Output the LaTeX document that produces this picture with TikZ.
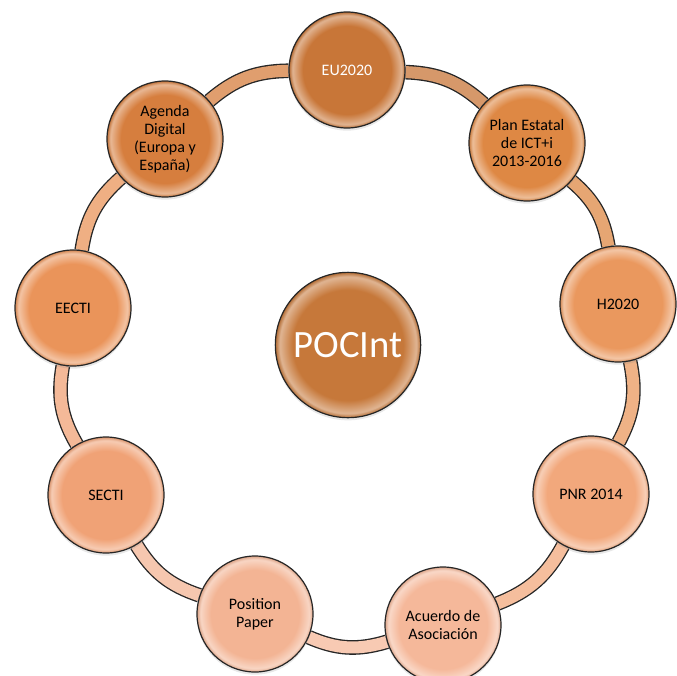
\documentclass[tikz,border=0pt]{standalone}
\usepackage{fontspec}
\setmainfont{Carlito}
\usetikzlibrary{backgrounds, shadows}
\definecolor{ballEU}{RGB}{200,118,56}
\definecolor{ballPlan}{RGB}{222,136,68}
\definecolor{ballH}{RGB}{234,152,94}
\definecolor{ballPNR}{RGB}{242,168,124}
\definecolor{ballAcu}{RGB}{245,184,154}
\definecolor{ballPos}{RGB}{243,180,148}
\definecolor{ballSecti}{RGB}{240,162,118}
\definecolor{ballEecti}{RGB}{234,148,90}
\definecolor{ballAgenda}{RGB}{214,126,62}
\definecolor{ballMain}{RGB}{198,120,58}
\colorlet{ballbase}{ballEU}
\pgfdeclareradialshading[ballbase]{glassball}{\pgfpoint{0bp}{0bp}}{%
  color(0bp)=(ballbase); color(19bp)=(ballbase); color(23.5bp)=(ballbase!55!white);
  color(25bp)=(ballbase!90!black); color(50bp)=(ballbase!90!black)}

\begin{document}
\begin{tikzpicture}[x=0.75pt, y=-0.75pt,
    ball/.style={circle, minimum size=87pt, inner sep=0pt, draw=black!85, line width=0.9pt,
      align=center, font=\fontsize{12}{13.5}\selectfont,
      /utils/exec={\colorlet{ballbase}{#1}}, shading=glassball,
      drop shadow={opacity=0.18, shadow xshift=0pt, shadow yshift=-2pt}},
    band/.style={draw=black!85, line width=1pt, double=#1, double distance=9pt}]
  \useasboundingbox (0,0) rectangle (677,675);

  \node[ball=ballMain, minimum size=109pt, text=white, font=\fontsize{29}{34}\selectfont] (pocint) at (348,345) {POCInt};

  \node[ball=ballEU, text=white] (eu) at (347,70) {EU2020};
  \node[ball=ballPlan] (plan) at (527,143) {Plan Estatal\\de ICT+i\\2013-2016};
  \node[ball=ballH] (htwo) at (618,304) {H2020};
  \node[ball=ballPNR] (pnr) at (591,494) {PNR 2014};
  \node[ball=ballAcu] (acuerdo) at (443,625) {Acuerdo de\\Asociación};
  \node[ball=ballPos] (position) at (255,614) {Position\\Paper};
  \node[ball=ballSecti] (secti) at (106,495) {SECTI};
  \node[ball=ballEecti] (eecti) at (73,308) {EECTI};
  \node[ball=ballAgenda] (agenda) at (165,139) {Agenda\\Digital\\(Europa y\\España)};

  % ring
  \begin{scope}[on background layer]
    \foreach \a/\b/\c in {eu/plan/ballEU, plan/htwo/ballPlan, htwo/pnr/ballH, pnr/acuerdo/ballPNR,
        acuerdo/position/ballAcu, position/secti/ballPos, secti/eecti/ballSecti,
        eecti/agenda/ballEecti, agenda/eu/ballAgenda}
      \draw[band=\c!75!white] (\a) to[bend left=20] (\b);
  \end{scope}
\end{tikzpicture}
\end{document}
